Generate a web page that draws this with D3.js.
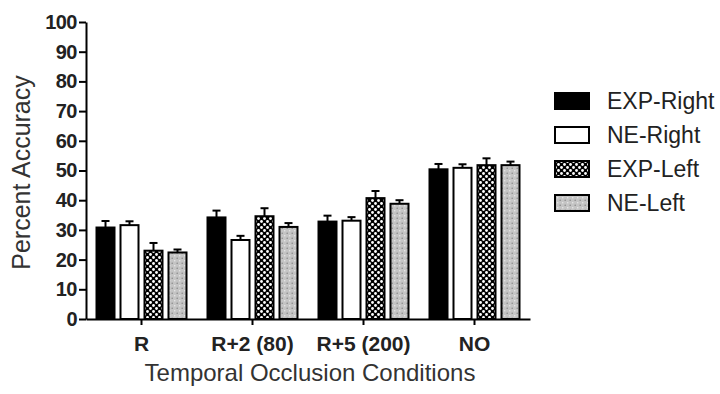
<!DOCTYPE html>
<html>
<head>
<meta charset="utf-8">
<script src="https://cdn.jsdelivr.net/npm/d3@7"></script>
<style>
  body { margin: 0; background: #fff; }
  svg { font-family: Arial, "Liberation Sans", sans-serif; }
</style>
</head>
<body>
<svg id="chart" width="720" height="394"></svg>
<script>
// data
const categories = ['R', 'R+2 (80)', 'R+5 (200)', 'NO'];
const seriesNames = ['EXP-Right', 'NE-Right', 'EXP-Left', 'NE-Left'];
const expRight = [30.8, 34.2, 32.8, 50.4];
const neRight = [31.6, 26.6, 33.1, 50.9];
const expLeft = [23.0, 34.6, 40.7, 51.8];
const neLeft = [22.4, 31.0, 38.8, 51.8];
const expRightErr = [2.2, 2.3, 2.0, 1.8];
const neRightErr = [1.3, 1.4, 1.2, 1.2];
const expLeftErr = [2.6, 2.7, 2.4, 2.3];
const neLeftErr = [1.0, 1.3, 1.2, 1.2];
const yTicks = [0, 10, 20, 30, 40, 50, 60, 70, 80, 90, 100];

const values = [expRight, neRight, expLeft, neLeft];
const errors = [expRightErr, neRightErr, expLeftErr, neLeftErr];
const fills = ['#000', '#fff', 'url(#checker)', 'url(#dots)'];

const svg = d3.select('#chart');

// patterns for the two "Left" series
const defs = svg.append('defs');
const checker = defs.append('pattern')
  .attr('id', 'checker')
  .attr('patternUnits', 'userSpaceOnUse')
  .attr('width', 6).attr('height', 6);
checker.append('rect').attr('width', 6).attr('height', 6).attr('fill', '#000');
checker.append('circle').attr('cx', 1.5).attr('cy', 1.5).attr('r', 1.4).attr('fill', '#fff');
checker.append('circle').attr('cx', 4.5).attr('cy', 4.5).attr('r', 1.4).attr('fill', '#fff');

const dots = defs.append('pattern')
  .attr('id', 'dots')
  .attr('patternUnits', 'userSpaceOnUse')
  .attr('width', 5).attr('height', 5);
dots.append('rect').attr('width', 5).attr('height', 5).attr('fill', '#c4c4c4');
dots.append('circle').attr('cx', 1.2).attr('cy', 1.2).attr('r', 0.8).attr('fill', '#8a8a8a');
dots.append('circle').attr('cx', 3.7).attr('cy', 3.7).attr('r', 0.8).attr('fill', '#e8e8e8');

const margin = { top: 22, left: 86 };
const width = 444;
const height = 297;

const g = svg.append('g')
  .attr('transform', `translate(${margin.left},${margin.top})`);

const x = d3.scaleBand().domain(categories).range([0, width]);
const xSub = d3.scaleBand().domain(seriesNames).range([0, 90]).paddingInner(0.25);
const y = d3.scaleLinear().domain([0, 100]).range([height, 0]);

// bars + error bars
seriesNames.forEach((name, si) => {
  const grp = g.append('g');
  categories.forEach((c, ci) => {
    const bx = x(c) + x.bandwidth() / 2 - 45 + xSub(name);
    const v = values[si][ci];
    const e = errors[si][ci];
    const cx = bx + xSub.bandwidth() / 2;
    grp.append('line')
      .attr('x1', cx).attr('x2', cx)
      .attr('y1', y(v)).attr('y2', y(v + e))
      .attr('stroke', '#000').attr('stroke-width', 2);
    grp.append('line')
      .attr('x1', cx - 4).attr('x2', cx + 4)
      .attr('y1', y(v + e)).attr('y2', y(v + e))
      .attr('stroke', '#000').attr('stroke-width', 2);
    grp.append('rect')
      .attr('x', bx).attr('y', y(v))
      .attr('width', xSub.bandwidth())
      .attr('height', y(0) - y(v))
      .attr('fill', fills[si])
      .attr('stroke', '#000').attr('stroke-width', 2);
  });
});

// y axis
const yAxis = g.append('g')
  .call(d3.axisLeft(y).tickValues(yTicks).tickSize(7).tickPadding(2).tickSizeOuter(0));
yAxis.select('.domain').attr('stroke-width', 2);
yAxis.selectAll('.tick line').attr('stroke-width', 2);
yAxis.selectAll('text')
  .style('font-size', '20px').style('font-weight', 'bold').attr('fill', '#222')
  .attr('letter-spacing', '-0.5');

// x axis
const xAxis = g.append('g')
  .attr('transform', `translate(0,${height})`)
  .call(d3.axisBottom(x).tickSize(6).tickPadding(11).tickSizeOuter(0));
xAxis.select('.domain').attr('stroke-width', 2);
xAxis.selectAll('.tick line').attr('stroke-width', 2);
xAxis.selectAll('text')
  .style('font-size', '21px').style('font-weight', 'bold').attr('fill', '#222');

// axis titles
svg.append('text')
  .attr('transform', `translate(30,${margin.top + height / 2 + 2}) rotate(-90)`)
  .style('text-anchor', 'middle')
  .style('font-size', '25px')
  .attr('fill', '#333')
  .text('Percent Accuracy');

svg.append('text')
  .attr('x', margin.left + width / 2 + 2)
  .attr('y', 381)
  .style('text-anchor', 'middle')
  .style('font-size', '24px')
  .attr('fill', '#333')
  .text('Temporal Occlusion Conditions');

// legend
const legend = svg.append('g').attr('transform', 'translate(554,92)');
seriesNames.forEach((name, i) => {
  const row = legend.append('g').attr('transform', `translate(0,${i * 34})`);
  row.append('rect')
    .attr('x', 1).attr('y', 1)
    .attr('width', 34).attr('height', 16)
    .attr('fill', fills[i])
    .attr('stroke', '#000').attr('stroke-width', 2);
  row.append('text')
    .attr('x', 53).attr('y', 17)
    .style('font-size', '23px')
    .attr('fill', '#222')
    .text(name);
});
</script>
</body>
</html>
